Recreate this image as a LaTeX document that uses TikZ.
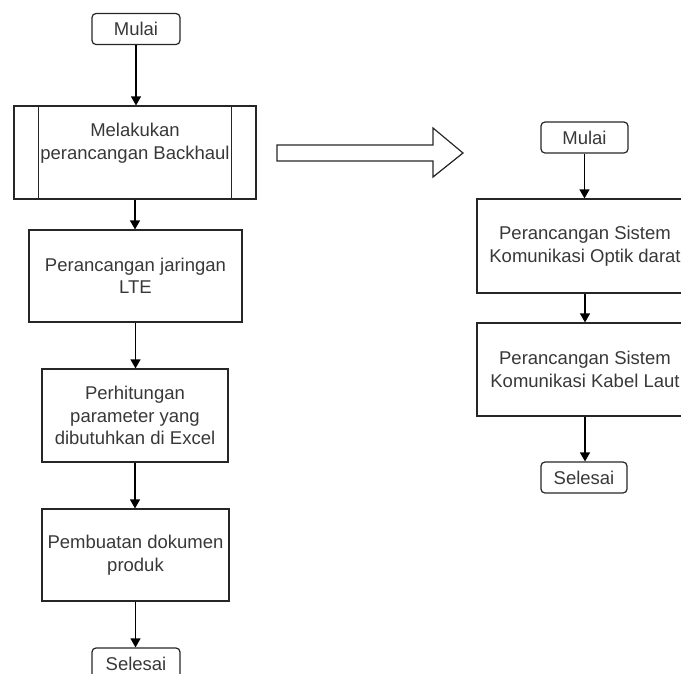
\documentclass[tikz,border=0pt]{standalone}
\usepackage{fontspec}
\setmainfont{Liberation Sans}
\usetikzlibrary{arrows.meta}
\begin{document}
\begin{tikzpicture}[x=1pt,y=-1pt,
  every node/.style={font=\fontsize{18.5}{22.5}\selectfont, text=black!78},
  term/.style={draw=black!85, rounded corners=4pt, minimum width=88pt, minimum height=31pt, inner sep=0pt, line width=1.2pt},
  proc/.style={draw=black!85, line width=1.2pt, align=center, inner sep=0pt},
  conn/.style={-{Triangle[length=9pt,width=10pt]}, line width=1.2pt, draw=black}
]
\useasboundingbox (0,0) rectangle (681,673);
\clip (0,0) rectangle (681,673);
% left column
\node[term] (m1) at (136,29) {Mulai};
\node[proc, minimum width=242pt, minimum height=93pt] (b1) at (135,152.5) {Melakukan\\perancangan Backhaul\\\mbox{}};
\draw[black!85, line width=1.2pt] ([xshift=25pt]b1.north west) -- ([xshift=25pt]b1.south west);
\draw[black!85, line width=1.2pt] ([xshift=-25pt]b1.north east) -- ([xshift=-25pt]b1.south east);
\node[proc, minimum width=213pt, minimum height=92pt] (b2) at (135.5,276) {Perancangan jaringan\\LTE};
\node[proc, minimum width=186pt, minimum height=93pt] (b3) at (135,415.5) {Perhitungan\\parameter yang\\dibutuhkan di Excel};
\node[proc, minimum width=187pt, minimum height=92pt] (b4) at (135.5,555) {Pembuatan dokumen\\produk};
\node[term] (s1) at (136,663.5) {Selesai};
\draw[conn] (m1) -- (m1 |- b1.north);
\draw[conn] (b1) -- (b1 |- b2.north);
\draw[conn] (b2) -- (b2 |- b3.north);
\draw[conn] (b3) -- (b3 |- b4.north);
\draw[conn] (b4) -- (b4 |- s1.north);
% block arrow
\draw[black!85, line width=1.2pt, line join=miter] (277,145) -- (433,145) -- (433,128) -- (463,153) -- (433,177) -- (433,161) -- (277,161) -- cycle;
% right column
\node[term, minimum width=87pt] (m2) at (584.5,137.5) {Mulai};
\node[proc, minimum width=216pt, minimum height=94pt] (c1) at (585,246) {};
\node[align=center] (c1t) at (585,246) {Perancangan Sistem\\Komunikasi Optik darat};
\node[proc, minimum width=216pt, minimum height=93pt] (c2) at (585,369.5) {};
\node[align=center] (c2t) at (585,369.5) {Perancangan Sistem\\Komunikasi Kabel Laut};
\node[term, minimum width=86pt] (s2) at (584,477.5) {Selesai};
\draw[conn] (m2) -- (m2 |- c1.north);
\draw[conn] (c1) -- (c1 |- c2.north);
\draw[conn] (c2) -- (c2 |- s2.north);
\end{tikzpicture}
\end{document}
